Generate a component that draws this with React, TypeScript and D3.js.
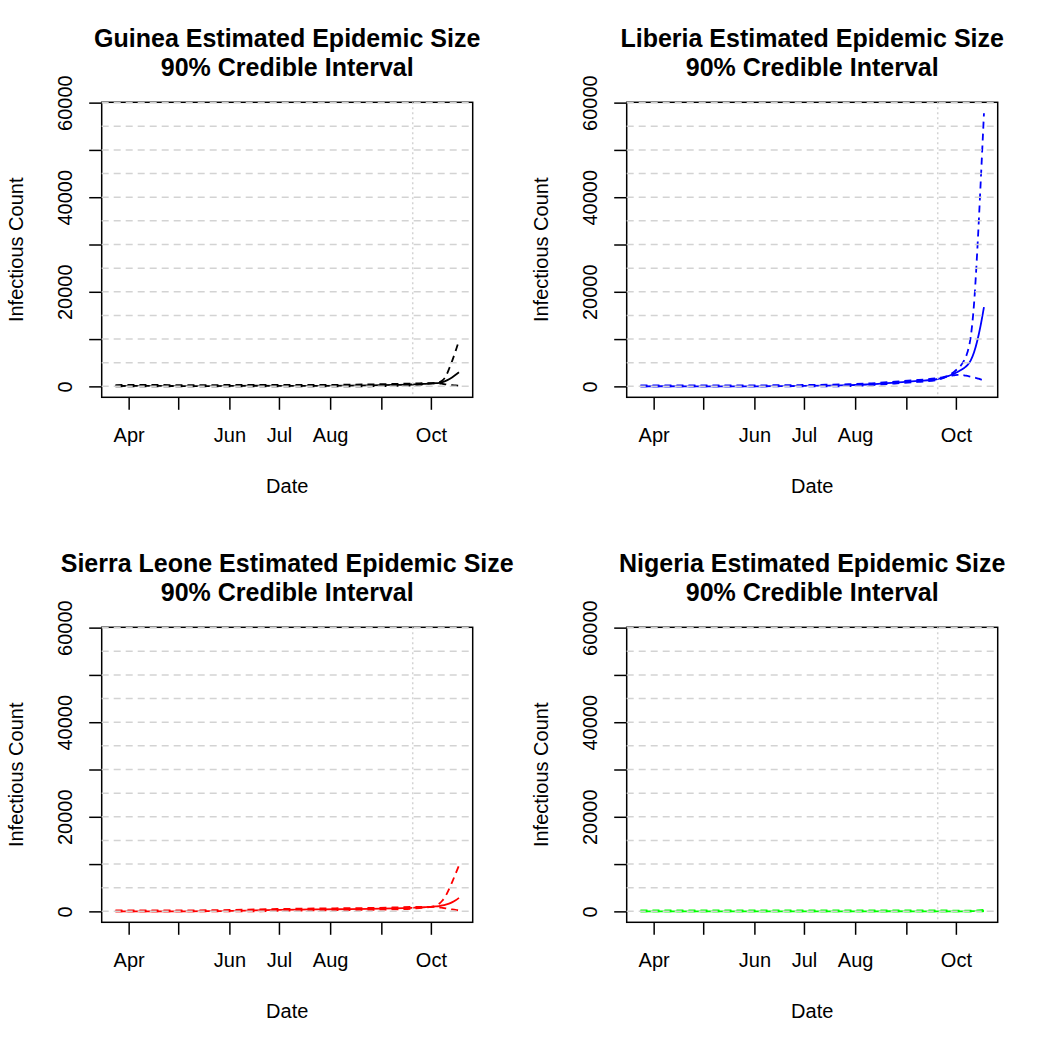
import { useEffect, useRef } from 'react';
import * as d3 from 'd3';

// sample dates (two-weekly during the fit, every two days in the projection)
const dates = [
  '2014-03-24', '2014-04-07', '2014-04-21', '2014-05-05', '2014-05-19', '2014-06-02', '2014-06-16',
  '2014-06-30', '2014-07-14', '2014-07-28', '2014-08-11', '2014-08-25', '2014-09-08', '2014-09-20',
  '2014-09-22', '2014-09-24', '2014-09-26', '2014-09-28', '2014-09-30', '2014-10-02', '2014-10-04',
  '2014-10-06', '2014-10-08', '2014-10-10', '2014-10-12', '2014-10-14', '2014-10-16', '2014-10-18',
];

const guineaMedian = [
  80, 100, 90, 70, 70, 100, 130, 120, 110, 120, 150, 220, 310, 400,
  430, 460, 500, 540, 590, 640, 690, 760, 900, 1150, 1500, 1950, 2450, 3000,
];
const guineaUpper = [
  280, 300, 290, 270, 270, 300, 330, 320, 310, 320, 350, 420, 510, 600,
  620, 640, 660, 680, 690, 700, 710, 880, 1250, 2100, 3700, 5500, 7500, 9700,
];
const guineaLower = [
  0, 0, 0, 0, 0, 0, 0, 0, 0, 0, 0, 20, 110, 200,
  250, 320, 400, 480, 560, 630, 680, 640, 540, 420, 330, 250, 190, 150,
];

const liberiaMedian = [
  20, 30, 15, 5, 5, 15, 50, 90, 150, 250, 450, 800, 1150, 1560,
  1720, 1920, 2150, 2400, 2700, 3050, 3450, 3900, 4500, 5500, 7200, 9700, 12900, 16750,
];
const liberiaUpper = [
  220, 230, 215, 205, 205, 215, 250, 290, 350, 450, 650, 1000, 1350, 1760,
  1850, 2000, 2180, 2600, 3100, 3700, 4400, 5500, 7200, 10500, 17500, 29000, 43000, 57760,
];
const liberiaLower = [
  0, 0, 0, 0, 0, 0, 0, 0, 0, 50, 250, 600, 950, 1360,
  1590, 1850, 2120, 2250, 2350, 2450, 2450, 2350, 2200, 2050, 1900, 1700, 1500, 1350,
];

const sierraMedian = [
  20, 20, 20, 20, 40, 100, 200, 300, 380, 430, 470, 520, 620, 760,
  790, 820, 860, 900, 950, 1000, 1060, 1130, 1250, 1420, 1650, 1950, 2350, 2850,
];
const sierraUpper = [
  220, 220, 220, 220, 240, 300, 400, 500, 580, 630, 670, 720, 820, 960,
  950, 940, 930, 940, 960, 1020, 1150, 1600, 2300, 3300, 4700, 6300, 8000, 9700,
];
const sierraLower = [
  0, 0, 0, 0, 0, 0, 0, 100, 180, 230, 270, 320, 420, 560,
  630, 700, 770, 840, 920, 960, 930, 880, 760, 630, 510, 400, 300, 220,
];

const nigeriaMedian = [
  0, 0, 0, 0, 0, 0, 0, 0, 0, 5, 20, 25, 15, 10,
  10, 10, 10, 10, 10, 10, 15, 20, 25, 30, 40, 50, 60, 80,
];
const nigeriaUpper = [
  200, 200, 200, 200, 200, 200, 200, 200, 200, 210, 230, 230, 220, 210,
  200, 190, 180, 170, 160, 150, 140, 140, 150, 160, 180, 210, 250, 300,
];
const nigeriaLower = [
  0, 0, 0, 0, 0, 0, 0, 0, 0, 0, 0, 0, 0, 0,
  0, 0, 0, 0, 0, 0, 0, 0, 0, 0, 0, 0, 0, 0,
];

const countries = ['Guinea', 'Liberia', 'Sierra Leone', 'Nigeria'];
const colors = ['#000000', '#0000ff', '#ff0000', '#00ff00'];

const monthTicks = ['2014-04-01', '2014-05-01', '2014-06-01', '2014-07-01', '2014-08-01', '2014-09-01', '2014-10-01'];
const monthLabels = ['Apr', '', 'Jun', 'Jul', 'Aug', '', 'Oct'];
const yTicks = [0, 10000, 20000, 30000, 40000, 50000, 60000];
const yLabels = ['0', '', '20000', '', '40000', '', '60000'];
const gridValues = [0, 5000, 10000, 15000, 20000, 25000, 30000, 35000, 40000, 45000, 50000, 55000, 60000];
const cutoffDate = '2014-09-20';

const FONT = '"Liberation Sans", Arial, Helvetica, sans-serif';
const CELL = 525;
const M = { left: 101.7, right: 52.3, top: 102.3, bottom: 127.7 };

export default function App() {
  const svgRef = useRef<SVGSVGElement>(null);

  useEffect(() => {
    if (!svgRef.current) return;
    const svg = d3.select(svgRef.current);
    svg.selectAll('*').remove();

    const parse = d3.timeParse('%Y-%m-%d');
    const xs = dates.map((d) => parse(d) as Date);

    const series = [
      { median: guineaMedian, lower: guineaLower, upper: guineaUpper },
      { median: liberiaMedian, lower: liberiaLower, upper: liberiaUpper },
      { median: sierraMedian, lower: sierraLower, upper: sierraUpper },
      { median: nigeriaMedian, lower: nigeriaLower, upper: nigeriaUpper },
    ];

    // shared y range, padded 4% like R
    const all = series.flatMap((s) => [...s.median, ...s.lower, ...s.upper]);
    const yMin = d3.min(all) ?? 0;
    const yMax = d3.max(all) ?? 1;
    const yPad = (yMax - yMin) * 0.04;

    const [t0, t1] = d3.extent(xs) as [Date, Date];
    const tPad = (t1.getTime() - t0.getTime()) * 0.04;

    const x0 = M.left;
    const x1 = CELL - M.right;
    const y0 = M.top;
    const y1 = CELL - M.bottom;

    const x = d3.scaleTime()
      .domain([new Date(t0.getTime() - tPad), new Date(t1.getTime() + tPad)])
      .range([x0, x1]);
    const y = d3.scaleLinear()
      .domain([yMin - yPad, yMax + yPad])
      .range([y1, y0]);

    const line = d3.line<number>()
      .x((_, j) => x(xs[j]))
      .y((d) => y(d))
      .curve(d3.curveMonotoneX);

    svg.append('rect').attr('width', 1050).attr('height', 1050).attr('fill', '#ffffff');

    series.forEach((s, i) => {
      const col = i % 2;
      const row = Math.floor(i / 2);
      const color = colors[i];
      const g = svg.append('g').attr('transform', `translate(${col * CELL},${row * CELL})`);

      // data lines
      [s.lower, s.upper].forEach((vals) => {
        g.append('path')
          .attr('d', line(vals))
          .attr('fill', 'none')
          .attr('stroke', color)
          .attr('stroke-width', 1.8)
          .attr('stroke-dasharray', '7,5');
      });
      g.append('path')
        .attr('d', line(s.median))
        .attr('fill', 'none')
        .attr('stroke', color)
        .attr('stroke-width', 1.8);

      // box
      g.append('rect')
        .attr('x', x0).attr('y', y0)
        .attr('width', x1 - x0).attr('height', y1 - y0)
        .attr('fill', 'none')
        .attr('stroke', '#000')
        .attr('stroke-width', 1.5);

      // x axis
      const xAxis = g.append('g')
        .attr('transform', `translate(0,${y1})`)
        .call(
          d3.axisBottom(x)
            .tickValues(monthTicks.map((d) => parse(d) as Date))
            .tickFormat((_, k) => monthLabels[k])
            .tickSize(12.5)
            .tickSizeOuter(0)
        );
      xAxis.select('.domain').remove();
      xAxis.selectAll('line').attr('stroke', '#000').attr('stroke-width', 1.5);
      xAxis.selectAll('text')
        .attr('y', 44.7)
        .attr('dy', null)
        .attr('fill', '#000')
        .style('font-family', FONT)
        .style('font-size', '20px');

      // y axis
      const yAxis = g.append('g')
        .attr('transform', `translate(${x0},0)`)
        .call(
          d3.axisLeft(y)
            .tickValues(yTicks)
            .tickFormat((_, k) => yLabels[k])
            .tickSize(12.5)
            .tickSizeOuter(0)
        );
      yAxis.select('.domain').remove();
      yAxis.selectAll('line').attr('stroke', '#000').attr('stroke-width', 1.5);
      yAxis.selectAll('text')
        .attr('x', null)
        .attr('dy', null)
        .attr('text-anchor', 'middle')
        .attr('transform', 'translate(-29.7,0) rotate(-90)')
        .attr('fill', '#000')
        .style('font-family', FONT)
        .style('font-size', '20px');

      // grid drawn on top, as in the original
      g.selectAll('line.grid')
        .data(gridValues)
        .join('line')
        .attr('class', 'grid')
        .attr('x1', x0).attr('x2', x1)
        .attr('y1', (d) => y(d)).attr('y2', (d) => y(d))
        .attr('stroke', '#d3d3d3')
        .attr('stroke-width', 1.5)
        .attr('stroke-dasharray', '7,5');

      const cx = x(parse(cutoffDate) as Date);
      g.append('line')
        .attr('x1', cx).attr('x2', cx)
        .attr('y1', y0).attr('y2', y1)
        .attr('stroke', '#d3d3d3')
        .attr('stroke-width', 1.5)
        .attr('stroke-dasharray', '2,3');

      // titles and labels
      const midX = (x0 + x1) / 2;
      const title = g.append('text')
        .attr('text-anchor', 'middle')
        .style('font-family', FONT)
        .style('font-size', '25px')
        .style('font-weight', 'bold');
      title.append('tspan').attr('x', midX).attr('y', 47).text(`${countries[i]} Estimated Epidemic Size`);
      title.append('tspan').attr('x', midX).attr('y', 76).text('90% Credible Interval');

      g.append('text')
        .attr('x', midX).attr('y', 493)
        .attr('text-anchor', 'middle')
        .style('font-family', FONT)
        .style('font-size', '20px')
        .text('Date');

      g.append('text')
        .attr('transform', `translate(23,${(y0 + y1) / 2}) rotate(-90)`)
        .attr('text-anchor', 'middle')
        .style('font-family', FONT)
        .style('font-size', '20px')
        .text('Infectious Count');
    });
  }, []);

  return (
    <svg
      ref={svgRef}
      width={1050}
      height={1050}
      style={{ position: 'absolute', left: 0, top: 0 }}
    />
  );
}
